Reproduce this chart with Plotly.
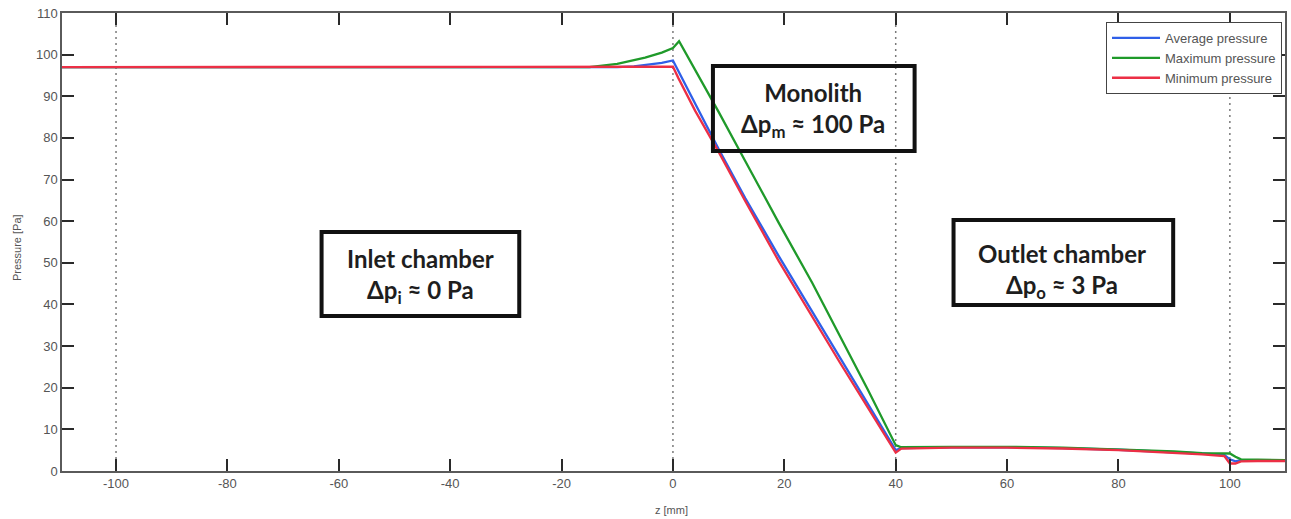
import plotly.graph_objects as go

# ---------------- data ----------------
z_avg = [-110, -90, -70, -50, -30, -10, -7, -4, -2, 0, 1, 4, 8.3, 13, 19, 25, 30, 35, 40,
         41, 50, 60, 70, 80, 90, 95, 99, 100, 101, 102, 105, 110]
p_avg = [97, 97, 97, 97, 97, 97, 97.2, 97.6, 98.0, 98.6, 95.9, 88.2, 77.1, 65.5, 51.6, 38.3, 27.3, 16.2, 5.0,
         5.5, 5.7, 5.7, 5.5, 5.1, 4.6, 4.2, 3.9, 2.8, 2.3, 2.6, 2.6, 2.5]

z_max = [-110, -50, -15, -10, -5, -2, 0, 1.1, 4, 8.3, 13, 19, 25, 30, 35, 40,
         41, 50, 60, 70, 80, 90, 95, 99, 100, 101, 102, 105, 110]
p_max = [97, 97, 97, 97.8, 99.3, 100.5, 101.6, 103.2, 96.3, 86.0, 74.4, 59.6, 45.2, 32.5, 19.5, 6.2,
         5.7, 5.8, 5.8, 5.6, 5.2, 4.7, 4.3, 4.1, 4.2, 3.4, 2.8, 2.7, 2.6]

z_min = [-110, -90, -70, -50, -30, -10, -1, 0, 1, 4, 8.3, 13, 19, 25, 30, 35, 40,
         41, 50, 60, 70, 80, 90, 95, 99, 100, 101, 102, 105, 110]
p_min = [97, 97, 97, 97, 97, 97, 97, 97.1, 94.3, 86.5, 76.4, 64.8, 50.4, 37.0, 26.0, 15.2, 4.4,
         5.4, 5.6, 5.6, 5.4, 5.0, 4.4, 4.0, 3.6, 1.8, 1.8, 2.3, 2.4, 2.4]

series_names = ["Average pressure", "Maximum pressure", "Minimum pressure"]
series_colors = ["#2f5fe8", "#1f9a2a", "#ec2f45"]

x_ticks = [-100, -80, -60, -40, -20, 0, 20, 40, 60, 80, 100]
x_tick_labels = ["-100", "-80", "-60", "-40", "-20", "0", "20", "40", "60", "80", "100"]
y_ticks = [0, 10, 20, 30, 40, 50, 60, 70, 80, 90, 100, 110]
region_lines = [-100, 0, 40, 100]

region_texts = [
    "<b>Inlet chamber<br>Δp<sub>i</sub> ≈ 0 Pa</b>",
    "<b>Monolith<br>Δp<sub>m</sub> ≈ 100 Pa</b>",
    "<b>Outlet chamber<br>Δp<sub>o</sub> ≈ 3 Pa</b>",
]

# ---------------- layout helpers (pixel -> paper) ----------------
W, H = 1291, 519
L, R, T, B = 62, 1287, 13, 471


def px(x):
    return (x - L) / (R - L)


def py(y):
    return (B - y) / (B - T)


fig = go.Figure()
for zz, pp, name, col in zip([z_avg, z_max, z_min], [p_avg, p_max, p_min], series_names, series_colors):
    fig.add_trace(go.Scatter(x=zz, y=pp, mode="lines", name=name,
                             line=dict(color=col, width=2.3)))

shapes = []
for zv in region_lines:
    shapes.append(dict(type="line", xref="x", yref="paper", x0=zv, x1=zv, y0=0, y1=1,
                       line=dict(color="#7a7a7a", width=1.5, dash="2px,4px"), layer="below"))

boxes = [(320, 230, 522, 318), (712, 64, 918, 153), (953, 218, 1177, 307)]
text_centers = [(421, 276), (814, 110), (1064, 271)]
annotations = []
for (x0, y0, x1, y1), (cx, cy), txt in zip(boxes, text_centers, region_texts):
    shapes.append(dict(type="rect", xref="paper", yref="paper",
                       x0=px(x0 + 2), x1=px(x1 - 2), y0=py(y0 + 2), y1=py(y1 - 2),
                       line=dict(color="#111111", width=4)))
    annotations.append(dict(xref="paper", yref="paper", x=px(cx), y=py(cy), text=txt,
                            showarrow=False, xanchor="center", yanchor="middle",
                            font=dict(family="Lato", size=24, color="#1e1e1e")))

annotations.append(dict(xref="paper", yref="paper", x=px(672), y=py(510), text="z [mm]",
                        showarrow=False, xanchor="center", yanchor="middle",
                        font=dict(family="Liberation Sans", size=11, color="#555555")))
annotations.append(dict(xref="paper", yref="paper", x=px(17), y=py(248), text="Pressure [Pa]",
                        showarrow=False, xanchor="center", yanchor="middle", textangle=-90,
                        font=dict(family="Liberation Sans", size=11, color="#555555")))

axis_common = dict(showgrid=False, zeroline=False, showline=True, linecolor="#5a5a5a", linewidth=1.5,
                   mirror="ticks", ticks="inside", ticklen=12, tickwidth=1.6, tickcolor="#2a2a2a",
                   tickfont=dict(family="Liberation Sans", size=13, color="#555555"))

fig.update_layout(
    width=W, height=H,
    margin=dict(l=L, r=W - R, t=T, b=H - B, pad=0),
    paper_bgcolor="white", plot_bgcolor="white",
    xaxis=dict(range=[-109.7, 109.9], tickvals=x_ticks, ticktext=x_tick_labels, **axis_common),
    yaxis=dict(range=[0, 110], tickvals=y_ticks, **axis_common),
    shapes=shapes, annotations=annotations,
    legend=dict(x=px(1284), y=py(22), xanchor="right", yanchor="top",
                bgcolor="white", bordercolor="#444444", borderwidth=1, itemwidth=48,
                tracegroupgap=0,
                font=dict(family="Liberation Sans", size=13, color="#555555")),
    showlegend=True,
)

fig.write_html("out.html")
